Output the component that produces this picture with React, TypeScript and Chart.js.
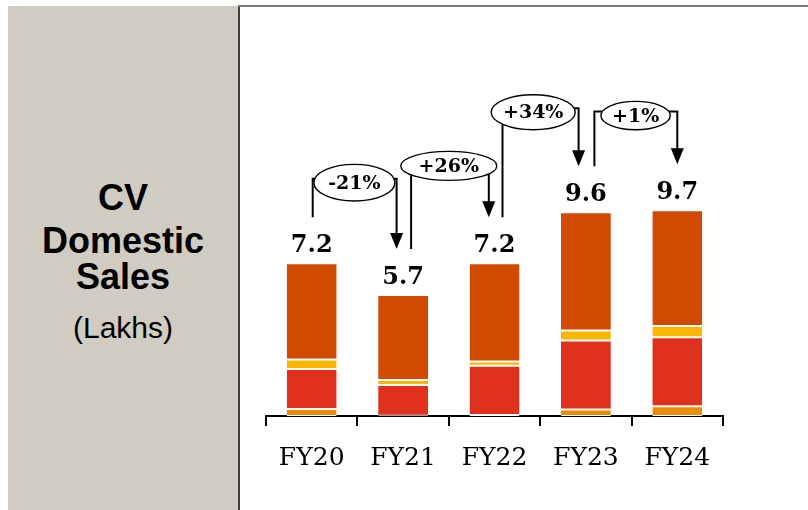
import React, { useEffect, useRef } from "react";
import { Chart, registerables } from "chart.js";

Chart.register(...registerables);

// Fiscal years on the x axis
const categories = ["FY20", "FY21", "FY22", "FY23", "FY24"];
// Total domestic CV sales (lakh units), printed above each bar
const totals = [7.2, 5.7, 7.2, 9.6, 9.7];
// Stack segments, bottom to top
const segmentA = [0.33, 0.01, 0.05, 0.31, 0.46];
const segmentB = [1.88, 1.45, 2.32, 3.25, 3.25];
const segmentC = [0.45, 0.24, 0.2, 0.47, 0.53];
const segmentD = [4.54, 4.0, 4.63, 5.57, 5.46];
// Year-on-year change between consecutive years
const changes = ["-21%", "+26%", "+34%", "+1%"];

// Geometry of the change bubbles (pixel offsets, level in axis units)
const bubbleStyle = [
  { fromDx: 1, toDx: -6.5, cxOff: -3, level: 11.0, rx: 40.5, ry: 18.3 },
  { fromDx: 8, toDx: -5.7, cxOff: 0, level: 11.79, rx: 48, ry: 14.5 },
  { fromDx: 8, toDx: -7.3, cxOff: -7, level: 14.32, rx: 42, ry: 17.5 },
  { fromDx: 8.5, toDx: 0, cxOff: 4, level: 14.16, rx: 34.7, ry: 14.2 },
];

const COLORS = ["#EB8C00", "#E0301E", "#FFB600", "#D04A02"];
const SERIF = "'DejaVu Serif', 'Liberation Serif', serif";

const annotationPlugin = {
  id: "valueAndChange",
  afterDatasetsDraw(chart: any) {
    const ctx: CanvasRenderingContext2D = chart.ctx;
    const x = chart.scales.x;
    const y = chart.scales.y;
    ctx.save();

    // totals above bars
    ctx.fillStyle = "#000";
    ctx.font = `bold 24px ${SERIF}`;
    ctx.textAlign = "center";
    ctx.textBaseline = "alphabetic";
    totals.forEach((t, i) => {
      const px = x.getPixelForValue(i);
      const top = y.getPixelForValue(t);
      ctx.fillText(t.toFixed(1), px, top - 11);
    });

    // change bubbles with connector and arrow
    const gap = 46;
    changes.forEach((label, i) => {
      const s = bubbleStyle[i];
      const c0 = x.getPixelForValue(i);
      const c1 = x.getPixelForValue(i + 1);
      const x0 = c0 + s.fromDx;
      const x1 = c1 + s.toDx;
      const y0 = y.getPixelForValue(totals[i]) - gap;
      const y1 = y.getPixelForValue(totals[i + 1]) - gap;
      const cx = (c0 + c1) / 2 + s.cxOff;
      const cy = y.getPixelForValue(s.level);

      ctx.strokeStyle = "#000";
      ctx.lineWidth = 2;

      const connect = (lx: number, side: number) => {
        const d = (lx - cx) / s.rx;
        if (Math.abs(d) < 0.93) {
          return { top: cy + s.ry * Math.sqrt(1 - d * d), hx: null as number | null };
        }
        const ty = cy - 4;
        const e = (ty - cy) / s.ry;
        const hx = cx + side * s.rx * Math.sqrt(1 - e * e);
        return { top: ty, hx };
      };

      // left leg
      const L = connect(x0, -1);
      ctx.beginPath();
      ctx.moveTo(x0, y0);
      ctx.lineTo(x0, L.top);
      if (L.hx !== null) ctx.lineTo(L.hx, L.top);
      ctx.stroke();

      // right leg with arrow head
      const R = connect(x1, 1);
      const headH = 16;
      const headW = 13;
      ctx.beginPath();
      if (R.hx !== null) {
        ctx.moveTo(R.hx, R.top);
        ctx.lineTo(x1, R.top);
      } else {
        ctx.moveTo(x1, R.top);
      }
      ctx.lineTo(x1, y1 - headH + 1);
      ctx.stroke();
      ctx.beginPath();
      ctx.moveTo(x1 - headW / 2, y1 - headH);
      ctx.lineTo(x1 + headW / 2, y1 - headH);
      ctx.lineTo(x1, y1);
      ctx.closePath();
      ctx.fillStyle = "#000";
      ctx.fill();

      // bubble
      ctx.beginPath();
      ctx.ellipse(cx, cy, s.rx, s.ry, 0, 0, Math.PI * 2);
      ctx.fillStyle = "#fff";
      ctx.fill();
      ctx.lineWidth = 1.4;
      ctx.stroke();

      ctx.fillStyle = "#000";
      ctx.font = `bold 19px ${SERIF}`;
      ctx.textAlign = "center";
      ctx.textBaseline = "middle";
      ctx.fillText(label, cx, cy + 1);
    });

    ctx.restore();
  },
};

export default function App() {
  const canvasRef = useRef<HTMLCanvasElement | null>(null);

  useEffect(() => {
    if (!canvasRef.current) return;
    const seg = [segmentA, segmentB, segmentC, segmentD];
    const chart = new Chart(canvasRef.current, {
      type: "bar",
      data: {
        labels: categories,
        datasets: seg.map((d, k) => ({
          data: d,
          backgroundColor: COLORS[k],
          borderColor: "#fff",
          borderWidth: { top: 1, bottom: 1, left: 0, right: 0 },
          borderSkipped: false,
          barPercentage: 0.546,
          categoryPercentage: 1,
        })),
      },
      options: {
        responsive: false,
        animation: false,
        devicePixelRatio: 1,
        layout: { padding: { left: 26, right: 85, top: 111, bottom: 20 } },
        plugins: {
          legend: { display: false },
          tooltip: { enabled: false },
        },
        scales: {
          x: {
            stacked: true,
            grid: {
              offset: true,
              drawOnChartArea: false,
              drawTicks: true,
              tickLength: 10,
              color: "#000",
              lineWidth: 2,
            },
            border: { display: true, color: "#000", width: 2 },
            ticks: {
              color: "#000",
              font: { family: SERIF, size: 25 },
              padding: 17,
            },
          },
          y: {
            stacked: true,
            display: false,
            min: 0,
            max: 14,
          },
        },
      },
      plugins: [annotationPlugin],
    });
    return () => chart.destroy();
  }, []);

  const sideText = (text: string, top: number, size: number, bold: boolean) => (
    <div
      style={{
        position: "absolute",
        left: 8,
        width: 230,
        top,
        textAlign: "center",
        fontFamily: "'Liberation Sans', Arial, sans-serif",
        fontWeight: bold ? 700 : 400,
        fontSize: size,
        lineHeight: `${size}px`,
        color: "#000",
        whiteSpace: "nowrap",
      }}
    >
      {text}
    </div>
  );

  return (
    <div
      style={{
        position: "fixed",
        left: 0,
        top: 0,
        width: 808,
        height: 510,
        background: "#fff",
        overflow: "hidden",
      }}
    >
      <div
        style={{
          position: "absolute",
          left: 8,
          top: 6,
          width: 230,
          height: 504,
          background: "#D0CCC1",
        }}
      />
      <div style={{ position: "absolute", left: 238, top: 5, width: 2, height: 505, background: "#3c3c3c" }} />
      <div style={{ position: "absolute", left: 238, top: 5, width: 570, height: 2, background: "#7a7a7a" }} />
      {sideText("CV", 179.5, 36, true)}
      {sideText("Domestic", 222.8, 36, true)}
      {sideText("Sales", 258.5, 36, true)}
      {sideText("(Lakhs)", 313, 30, false)}
      <canvas
        ref={canvasRef}
        width={568}
        height={502}
        style={{ position: "absolute", left: 240, top: 8, width: 568, height: 502 }}
      />
    </div>
  );
}
